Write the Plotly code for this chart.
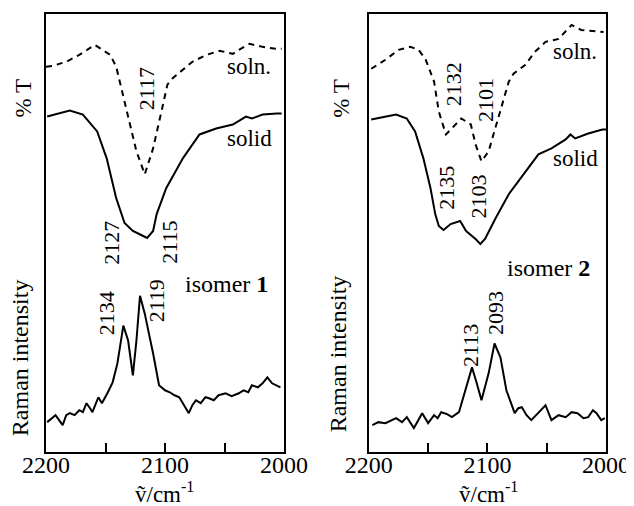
import plotly.graph_objects as go

# ---------------- data (wavenumber cm-1, relative signal) ----------------
l_soln_x = [2200, 2194, 2183, 2172, 2159, 2146, 2141, 2132, 2124, 2117, 2110, 2103, 2098, 2094,
            2085, 2077, 2065, 2054, 2043, 2038, 2029, 2018, 2007, 2002]
l_soln_y = [387, 388, 392, 399, 409, 399, 387, 342, 302, 279, 305, 342, 369, 375,
            384, 392, 399, 403, 400, 404, 410, 407, 405, 405]

l_solid_x = [2199, 2180, 2169, 2157, 2149, 2141, 2134, 2127, 2120, 2115, 2110, 2107, 2099,
             2085, 2071, 2057, 2043, 2032, 2027, 2018, 2006, 2002]
l_solid_y = [337, 343, 339, 322, 295, 255, 230, 222, 218, 215, 222, 239, 265,
             295, 319, 325, 329, 337, 335, 339, 340, 340]

l_raman_x = [2199, 2195, 2192, 2189, 2186, 2183, 2180, 2176, 2172, 2169, 2166, 2163, 2161, 2156,
             2153, 2148, 2144, 2140, 2137, 2135, 2131, 2127, 2124, 2121, 2117, 2113, 2110, 2105,
             2100, 2096, 2092, 2088, 2085, 2082, 2080, 2077, 2074, 2070, 2066, 2063, 2059, 2055,
             2049, 2044, 2038, 2034, 2030, 2027, 2022, 2018, 2014, 2010, 2006, 2003]
l_raman_y = [30, 34, 37, 32, 27, 37, 39, 37, 42, 40, 49, 44, 40, 55,
             49, 60, 70, 89, 112, 127, 112, 77, 112, 157, 139, 117, 99, 67,
             62, 60, 57, 55, 49, 42, 39, 47, 52, 49, 55, 54, 52, 57,
             59, 56, 59, 62, 60, 67, 65, 69, 75, 69, 67, 65]

r_soln_x = [2198, 2186, 2175, 2165, 2158, 2152, 2145, 2141, 2135, 2130, 2122, 2114, 2110, 2105,
            2099, 2091, 2082, 2078, 2068, 2060, 2051, 2040, 2029, 2021, 2010, 2002]
r_soln_y = [385, 394, 404, 407, 404, 394, 372, 342, 319, 325, 335, 329, 309, 292,
            302, 335, 372, 380, 389, 402, 412, 415, 429, 424, 423, 422]

r_solid_x = [2198, 2177, 2168, 2161, 2154, 2148, 2144, 2141, 2137, 2131, 2123, 2118, 2110, 2106,
             2102, 2093, 2082, 2068, 2057, 2046, 2034, 2030, 2026, 2015, 2003, 2000]
r_solid_y = [334, 339, 335, 322, 295, 265, 239, 227, 223, 229, 232, 222, 214, 209,
             214, 235, 259, 282, 299, 305, 314, 319, 315, 320, 324, 324]

r_raman_x = [2197, 2192, 2186, 2181, 2177, 2172, 2168, 2162, 2158, 2155, 2150, 2145, 2142, 2139,
             2134, 2130, 2124, 2118, 2113, 2109, 2105, 2099, 2094, 2089, 2084, 2077, 2074, 2071,
             2067, 2063, 2057, 2051, 2046, 2040, 2034, 2029, 2024, 2019, 2015, 2011, 2008, 2004, 2001]
r_raman_y = [27, 30, 29, 32, 34, 30, 35, 24, 32, 39, 29, 37, 34, 40,
             38, 35, 40, 65, 85, 69, 52, 79, 109, 95, 62, 39, 44, 45,
             37, 32, 40, 47, 32, 37, 35, 40, 39, 34, 35, 42, 39, 32, 34]

tick_vals = [2200, 2150, 2100, 2050, 2000]
tick_text = ["2200", "", "2100", "", "2000"]

FONT = "'Liberation Serif', 'Times New Roman', 'DejaVu Serif', serif"
BLACK = "black"

fig = go.Figure()
for xs, ys, dash, ax in [
    (l_soln_x, l_soln_y, "dash", "1"), (l_solid_x, l_solid_y, "solid", "1"),
    (l_raman_x, l_raman_y, "solid", "1"),
    (r_soln_x, r_soln_y, "dash", "2"), (r_solid_x, r_solid_y, "solid", "2"),
    (r_raman_x, r_raman_y, "solid", "2"),
]:
    fig.add_trace(go.Scatter(
        x=xs, y=ys, mode="lines",
        line=dict(color=BLACK, width=2, dash=dash if dash == "solid" else "6px,5px"),
        xaxis="x" if ax == "1" else "x2", yaxis="y" if ax == "1" else "y2",
        showlegend=False, hoverinfo="skip"))

xcommon = dict(range=[2200, 2000], tickvals=tick_vals, ticktext=tick_text,
               ticks="inside", ticklen=9, tickwidth=2, tickcolor=BLACK,
               showline=True, linewidth=2, linecolor=BLACK, mirror=True,
               showgrid=False, zeroline=False, ticklabelstandoff=-10,
               tickfont=dict(family=FONT, size=24, color=BLACK))
ycommon = dict(range=[0, 440], showticklabels=False, ticks="", showline=True,
               linewidth=2, linecolor=BLACK, mirror=True, showgrid=False, zeroline=False)

# page body has an 8px margin: figure is offset by (8, 8)
fig.update_layout(
    width=626, height=498,
    margin=dict(l=38, r=26, t=4, b=54),
    paper_bgcolor="white", plot_bgcolor="white",
    font=dict(family=FONT, size=22, color=BLACK),
    xaxis=dict(domain=[0, 0.425], **xcommon),
    xaxis2=dict(domain=[0.5765, 1], anchor="y2", **xcommon),
    yaxis=dict(domain=[0, 1], anchor="x", **ycommon),
    yaxis2=dict(domain=[0, 1], anchor="x2", **ycommon),
)

def ann(text, x, y, ax, rot=0, size=22):
    fig.add_annotation(text=text, x=x, y=y, xref="x" if ax == 1 else "x2",
                       yref="y" if ax == 1 else "y2", showarrow=False, textangle=rot,
                       font=dict(family=FONT, size=size, color=BLACK),
                       xanchor="center", yanchor="middle")

# left panel labels
ann("soln.", 2029, 387, 1, 0, 23)
ann("solid", 2029, 315, 1, 0, 23)
ann("2117", 2115.5, 365, 1, -90)
ann("2127", 2144.8, 210, 1, -90)
ann("2115", 2096, 211, 1, -90)
ann("isomer <b>1</b>", 2048.5, 169, 1, 0, 24)
ann("2134", 2149, 139, 1, -90)
ann("2119", 2107, 152, 1, -90)
# right panel labels
ann("soln.", 2026, 402, 2, 0, 23)
ann("solid", 2026, 295, 2, 0, 23)
ann("2132", 2128.6, 369, 2, -90)
ann("2101", 2101.7, 354, 2, -90)
ann("2135", 2134.5, 265, 2, -90)
ann("2103", 2107.6, 257, 2, -90)
ann("isomer <b>2</b>", 2048.7, 185, 2, 0, 24)
ann("2113", 2114.3, 107, 2, -90)
ann("2093", 2093.3, 140, 2, -90)

def pann(text, x, y, rot=0, size=22, yanchor="middle"):
    fig.add_annotation(text=text, x=x, y=y, xref="paper", yref="paper", showarrow=False,
                       textangle=rot, font=dict(family=FONT, size=size, color=BLACK),
                       xanchor="center", yanchor=yanchor)

pann("% T", -0.041, 0.807, -90, 23)
pann("Raman intensity", -0.045, 0.216, -90, 24)
pann("% T", 0.527, 0.807, -90, 23)
pann("Raman intensity", 0.523, 0.225, -90, 24)
pann("ṽ/cm<sup>-1</sup>", 0.212, -0.093, 0, 23)
pann("ṽ/cm<sup>-1</sup>", 0.79, -0.093, 0, 23)

fig.write_html("out.html")
